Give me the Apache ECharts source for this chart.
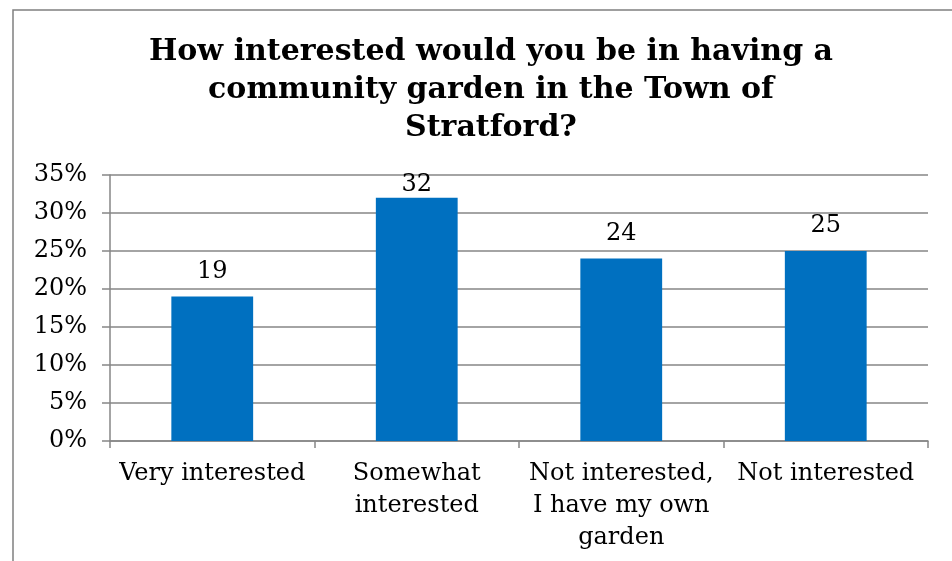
<!DOCTYPE html>
<html>
<head>
<meta charset="utf-8">
<script src="https://cdn.jsdelivr.net/npm/echarts@6/dist/echarts.min.js"></script>
<style>
  html, body { margin: 0; padding: 0; background: #ffffff; }
  #chart { width: 952px; height: 561px; }
</style>
</head>
<body>
<div id="chart"></div>
<script>
// Survey responses (percent of respondents)
const categories = [
  'Very interested',
  'Somewhat\ninterested',
  'Not interested,\nI have my own\ngarden',
  'Not interested'
];
const values = [19, 32, 24, 25];
const yTicks = { min: 0, max: 35, step: 5 };
const titleText = 'How interested would you be in having a\ncommunity garden in the Town of\nStratford?';

const serif = '"DejaVu Serif", "Liberation Serif", serif';
const gray = '#868686';

// Labels that would run past the top of the plot sit closer to their bar
const barData = values.map(v => (
  v > yTicks.max - 4
    ? { value: v, label: { distance: 1 } }
    : v
));

const chart = echarts.init(document.getElementById('chart'), null, { renderer: 'canvas' });
chart.setOption({
  animation: false,
  backgroundColor: '#ffffff',
  title: {
    text: titleText,
    left: 486,
    top: 28,
    textAlign: 'center',
    textStyle: {
      fontFamily: serif,
      fontWeight: 'bold',
      fontSize: 30,
      lineHeight: 38,
      color: '#000000'
    }
  },
  graphic: [{
    type: 'rect',
    shape: { x: 13, y: 10, width: 1200, height: 1200 },
    style: { fill: 'none', stroke: '#808080', lineWidth: 1.5 },
    silent: true
  }],
  grid: { left: 110, right: 24, top: 175, bottom: 120 },
  xAxis: {
    type: 'category',
    data: categories,
    axisLine: { lineStyle: { color: gray, width: 1.5 } },
    axisTick: { show: true, length: 7, alignWithLabel: false, lineStyle: { color: gray, width: 1.5 } },
    axisLabel: {
      interval: 0,
      margin: 17,
      fontFamily: serif,
      fontSize: 24,
      lineHeight: 32,
      color: '#000000'
    }
  },
  yAxis: {
    type: 'value',
    min: yTicks.min,
    max: yTicks.max,
    interval: yTicks.step,
    axisLine: { show: true, lineStyle: { color: gray, width: 1.5 } },
    axisTick: { show: true, length: 8, lineStyle: { color: gray, width: 1.5 } },
    splitLine: { show: true, lineStyle: { color: gray, width: 1.5 } },
    axisLabel: {
      formatter: '{value}%',
      margin: 23,
      fontFamily: serif,
      fontSize: 24,
      color: '#000000'
    }
  },
  series: [{
    type: 'bar',
    data: barData,
    barWidth: '40%',
    itemStyle: { color: '#0070C0' },
    label: {
      show: true,
      position: 'top',
      distance: 13,
      fontFamily: serif,
      fontSize: 24,
      color: '#000000'
    }
  }]
});
</script>
</body>
</html>
